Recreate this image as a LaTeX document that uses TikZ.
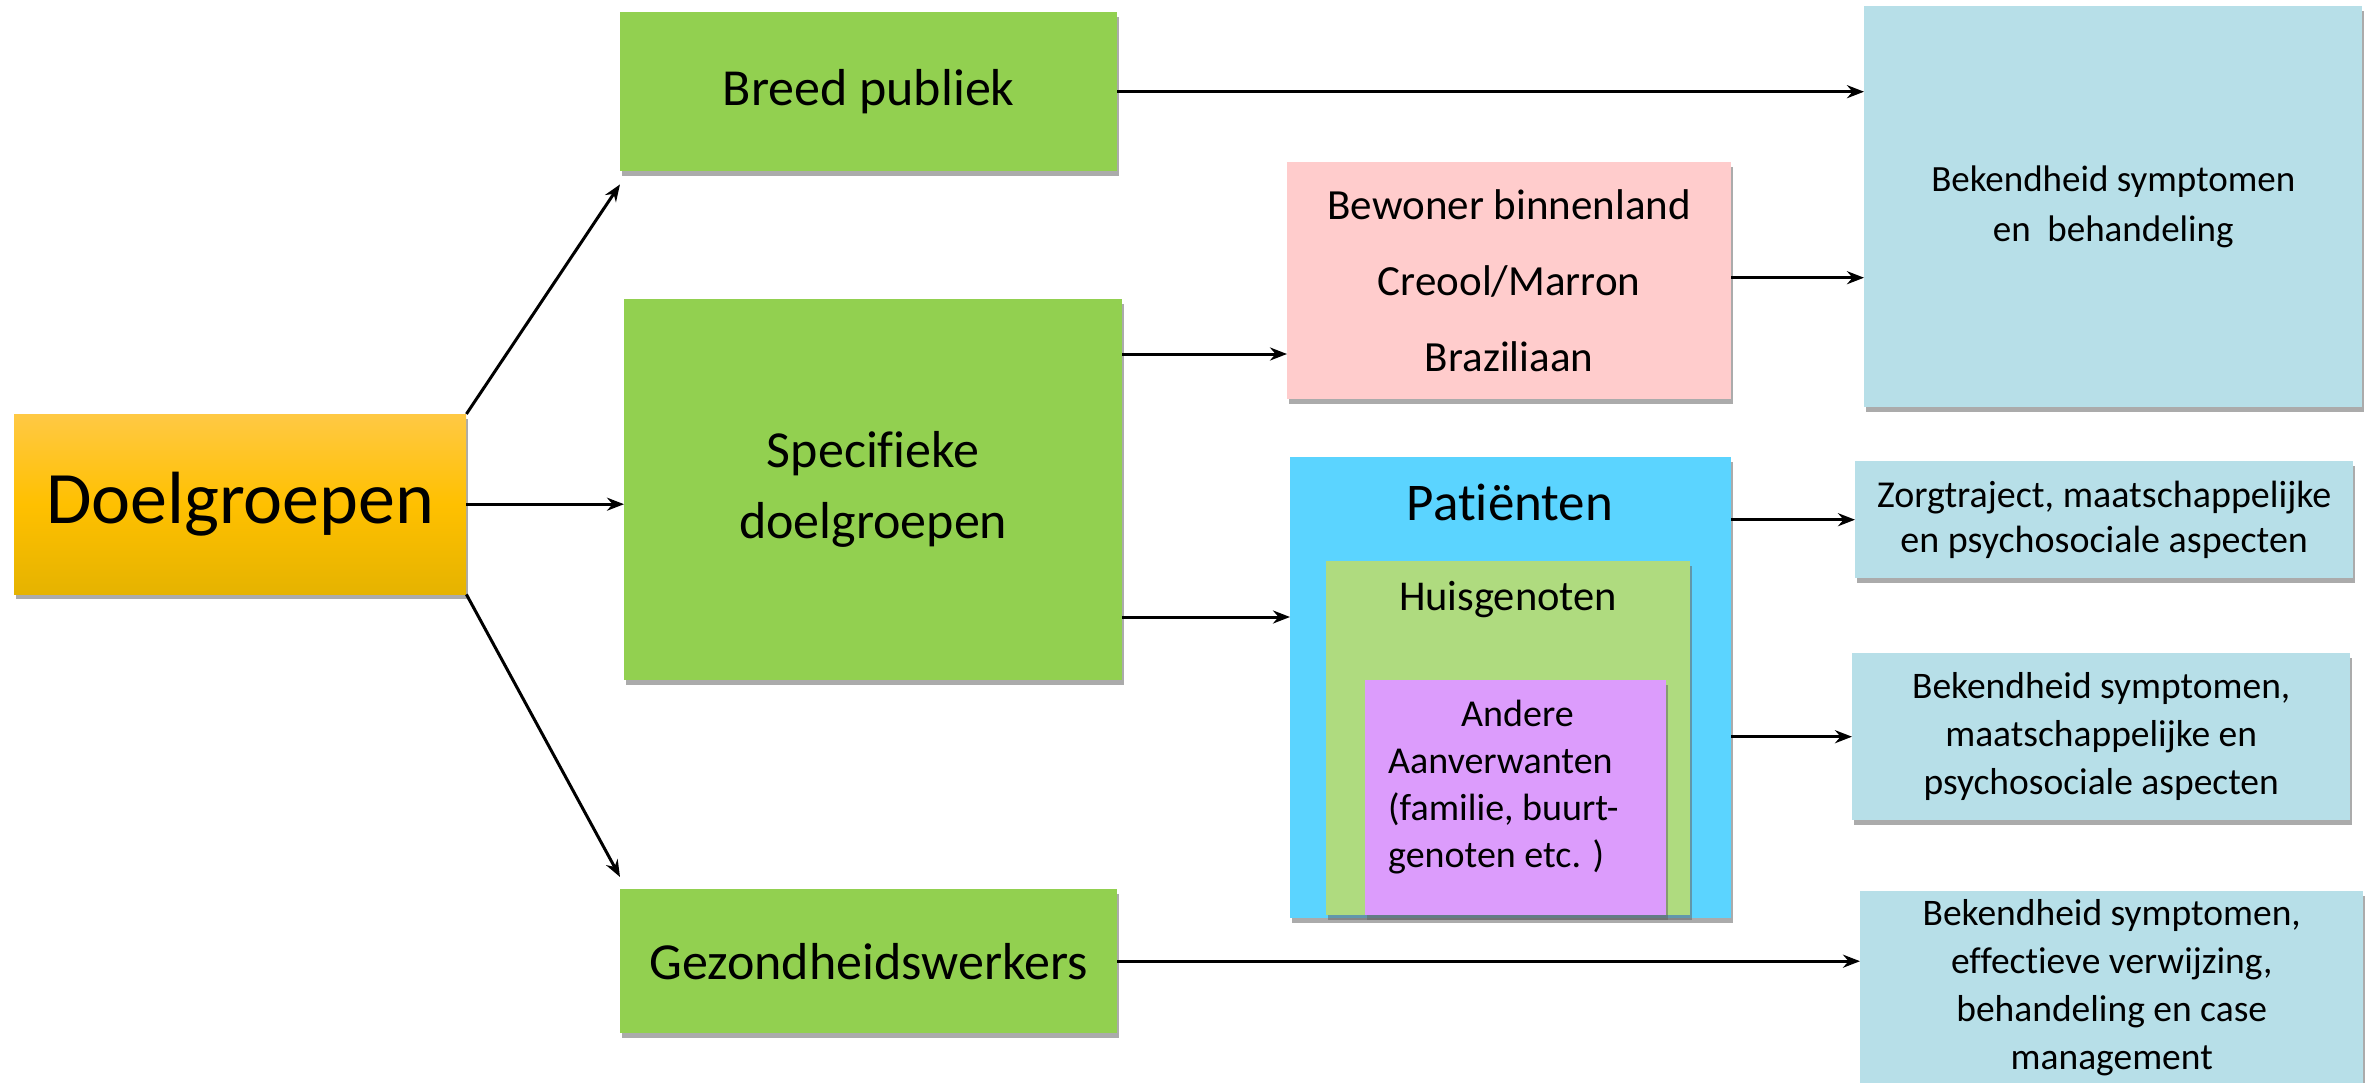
\documentclass[tikz,border=0pt]{standalone}
\usepackage{fontspec}
\setmainfont{Carlito}[Ligatures=NoCommon]
\usetikzlibrary{shadows,arrows.meta,calc}
\definecolor{grn}{HTML}{92D050}
\definecolor{pinkbox}{HTML}{FFCCCC}
\definecolor{patblue}{HTML}{5BD4FF}
\definecolor{huisgrn}{HTML}{AFDB7F}
\definecolor{purp}{HTML}{DC9CFC}
\definecolor{aqua}{HTML}{B7DFE8}
\definecolor{goldtop}{HTML}{FFC944}
\definecolor{goldmid}{HTML}{FFC000}
\definecolor{goldbot}{HTML}{E5B300}
\begin{document}
\begin{tikzpicture}[x=1pt,y=-1pt,
  box/.style={draw=none, inner sep=0pt, align=center, anchor=north west,
    drop shadow={shadow xshift=1.5pt, shadow yshift=-5pt, fill=black!60, opacity=.55}},
  arr/.style={line width=3pt, -{Stealth[length=17pt,width=13pt]}},
  fbig/.style={font=\fontsize{74}{89}\selectfont},
  fgrn/.style={font=\fontsize{52}{71}\selectfont},
  fmid/.style={font=\fontsize{43}{76}\selectfont},
  fsml/.style={font=\fontsize{37.5}{48}\selectfont}]
\fill[white] (0,0) rectangle (2371,1083);
\useasboundingbox (0,0) rectangle (2371,1083);

% left
\node[box, top color=goldtop, bottom color=goldbot, middle color=goldmid,
  minimum width=452pt, minimum height=180pt, fbig] (doel) at (14,414) {Doelgroepen};

% green column
\node[box, fill=grn, minimum width=497pt, minimum height=159pt, fgrn] (breed) at (620,12) {Breed publiek};
\node[box, fill=grn, minimum width=498pt, minimum height=381pt, fgrn] (spec) at (624,299) {Specifieke\\doelgroepen};
\node[box, fill=grn, minimum width=497pt, minimum height=144pt, fgrn] (gez) at (620,889) {Gezondheidswerkers};

% middle column
\node[box, fill=pinkbox, minimum width=444pt, minimum height=237pt, fmid] (pink) at (1287,162)
  {Bewoner binnenland\\Creool/Marron\\Braziliaan};
\node[box, fill=patblue, minimum width=441pt, minimum height=461pt] (pat) at (1290,457) {};
\node[font=\fontsize{53}{64}\selectfont] (patlbl) at (1510,502) {Patiënten};
\node[box, fill=huisgrn, minimum width=364pt, minimum height=354pt] (huis) at (1326,561) {};
\node[font=\fontsize{42.5}{50}\selectfont] (huislbl) at (1508,600) {Huisgenoten};
\node[box, fill=purp, minimum width=301pt, minimum height=235pt] (andere) at (1365,680) {};
\node[font=\fontsize{38}{47}\selectfont, align=left, anchor=west, inner sep=0pt] (anderelbl) at (1388,787)
  {\hspace*{73pt}Andere\\Aanverwanten\\(familie, buurt-\\genoten etc. )};

% right column
\node[box, fill=aqua, minimum width=498pt, minimum height=401pt, font=\fontsize{37}{50}\selectfont] (bek1) at (1864,6)
  {Bekendheid symptomen\\en~~behandeling};
\node[box, fill=aqua, minimum width=498pt, minimum height=117pt, font=\fontsize{38}{45}\selectfont] (zorg) at (1855,461)
  {Zorgtraject, maatschappelijke\\en psychosociale aspecten};
\node[box, fill=aqua, minimum width=498pt, minimum height=167pt, fsml] (bek2) at (1852,653)
  {Bekendheid symptomen,\\maatschappelijke en\\psychosociale aspecten};
\node[box, fill=aqua, minimum width=503pt, minimum height=192pt, fsml] (bek3) at (1860,891)
  {Bekendheid symptomen,\\effectieve verwijzing,\\behandeling en case\\management};

% connectors
\coordinate (tipbreed) at ($(breed.south west)+(0,13)$);
\coordinate (tipgez) at ($(gez.north west)+(0,-12)$);
\draw[arr] (doel.north east) -- (tipbreed);
\draw[arr] (doel.east) -- (doel.east -| spec.west);
\draw[arr] (doel.south east) -- (tipgez);
\draw[arr] (breed.east) -- (breed.east -| bek1.west);
\coordinate (s1) at ($(spec.north east)+(0,55)$);
\coordinate (s2) at ($(spec.north east)+(0,318)$);
\draw[arr] (s1) -- (s1 -| pink.west);
\draw[arr] (s2) -- (s2 -| pat.west);
\draw[arr] ($(pink.east)+(0,-3)$) -- ($(pink.east -| bek1.west)+(0,-3)$);
\draw[arr] (zorg.west -| pat.east) -- (zorg.west);
\draw[arr] (bek2.west -| pat.east) -- (bek2.west);
\draw[arr] (gez.east) -- (gez.east -| bek3.west);
\end{tikzpicture}
\end{document}
